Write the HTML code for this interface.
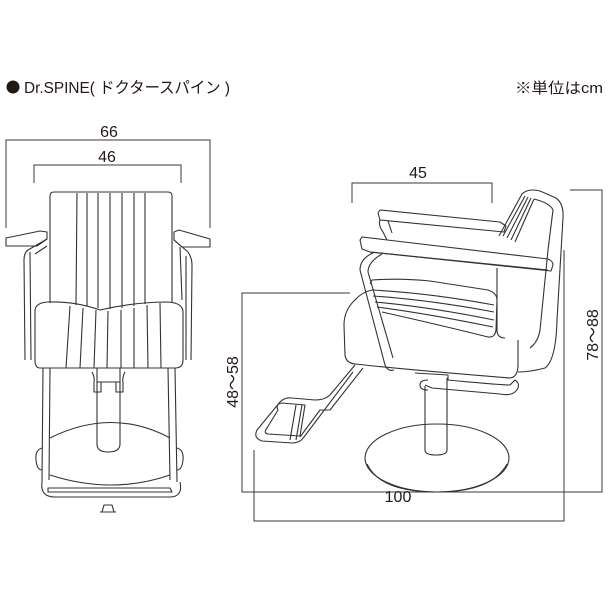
<!DOCTYPE html>
<html><head><meta charset="utf-8"><style>
html,body{margin:0;padding:0;background:#fff;}
svg{display:block;}
text{font-family:"Liberation Sans","Noto Sans CJK JP",sans-serif;fill:#231815;}
</style></head><body>
<svg width="608" height="608" viewBox="0 0 608 608" xmlns="http://www.w3.org/2000/svg">
<circle cx="13" cy="87" r="6.5" fill="#231815"/>
<text x="24" y="93" font-size="16" textLength="206" lengthAdjust="spacingAndGlyphs">Dr.SPINE( ドクタースパイン )</text>
<text x="603" y="93" font-size="15" text-anchor="end" textLength="88" lengthAdjust="spacingAndGlyphs">※単位はcm</text>

<g fill="none" stroke="#3a3a3a" stroke-width="1">
<polyline points="6,228 6,140 210,140 210,228"/>
<polyline points="34,183 34,165 181,165 181,183"/>
<polyline points="352,203 352,183 492,183 492,203"/>
<polyline points="570,190 602,190 602,492 242,492 242,293 350,293"/>
<polyline points="254,450 254,521 564,521 564,250"/>
</g>
<g font-size="16">
<text x="109" y="137" text-anchor="middle">66</text>
<text x="107" y="162" text-anchor="middle">46</text>
<text x="418" y="178" text-anchor="middle">45</text>
<text x="398" y="502" text-anchor="middle">100</text>
<text transform="translate(598,335) rotate(-90)" text-anchor="middle">78～88</text>
<text transform="translate(238,382) rotate(-90)" text-anchor="middle">48～58</text>
</g>

<!-- left chair -->
<g fill="none" stroke="#333" stroke-width="1.1" stroke-linejoin="round">
<path d="M50,303 L50,196 Q50,192 54,192 L168,192 Q172,192 172,196 L172,303"/>
<path d="M77,193 L76,305 M87,193 L87,306 M98,193 L98,308 M110,193 L110,309 M122,193 L122,308 M134,193 L134,306 M145,193 L145,304"/>
<path d="M6,238 L40,231 L47,232 L47,239 L37,246 L6,246 Z"/>
<path d="M174,232 L179,230 L210,239 L210,247 L182,247 L174,240 Z"/>
<path d="M47,239 L28,250 Q24,253 24,260 L25,360 M30,252 L31,360 M47,246 L35,254"/>
<path d="M174,240 L188,252 Q192,258 192,265 L191,360 M186,256 L186,360 M180,247 L182,300"/>
<path d="M35,310 Q36,303 47,302 Q75,301 100,310 Q135,302 168,302 Q183,303 183,312 L183,360 Q183,368 175,368 L40,368 Q35,368 35,360 Z"/>
<path d="M70,306 L66,368 M83,308 L80,368 M96,310 L94,368 M108,311 L107,368 M121,310 L121,368 M134,308 L134,368 M147,305 L148,368 M160,303 L161,368"/>
<path d="M43,368 L42,482 M50,368 L49,480 M168,368 L170,480 M175,368 L177,482"/>
<path d="M42,482 Q40,497 55,497 L170,497 Q183,497 180,482"/>
<path d="M48,488 L170,488 L172,492 L48,492 Z"/>
<path d="M50,438 Q112,407 170,438 M50,475 Q112,495 170,475"/>
<path d="M42,448 Q35,450 36,460 Q37,470 42,470 M177,448 Q184,450 183,460 Q182,470 177,470"/>
<path d="M97,368 L97,444 Q97,452 108,452 Q120,452 120,444 L120,368"/>
<path d="M97,382 L120,382 M92,372 Q95,378 94,382 L94,392 L101,392 L101,382 M125,372 Q122,378 123,382 L123,392 L116,392 L116,382"/>
<path d="M104,505 L112,505 L114,512 L102,512 Z M100,512 L116,512"/>
</g>

<!-- right chair -->
<g fill="none" stroke="#333" stroke-width="1.1" stroke-linejoin="round">
<!-- backrest -->
<path d="M499,236 L522,194 Q528,188 540,191 L556,198 Q564,204 563,218 L557,320 Q556,360 545,368 Q530,372 518,372"/>
<path d="M503,236 L525,196 M507,238 L528,197 M511,240 L531,198 M515,242 L534,199"/>
<path d="M534,199 Q550,203 553,210 L548,250 L540,330 Q538,342 530,348"/>
<path d="M497,268 L497,330 Q497,338 505,338"/>
<!-- back armrest -->
<path d="M378,213 L380,210 L500,222 L506,226 L504,232 L380,220 Z"/>
<path d="M380,220 Q378,225 383,232 L387,240 M388,221 L392,233"/>
<!-- seat -->
<path d="M370,284 L372,280 Q400,278 430,281 L488,290 Q497,293 497,300 L496,330 Q495,338 488,337 Q440,325 382,312"/>
<path d="M372,290 Q430,293 494,305 M373,296 Q430,300 494,312 M375,302 Q430,307 494,320 M377,307 Q430,314 493,327"/>
<path d="M372,290 Q362,292 355,300 Q344,310 344,325 L345,355 Q346,363 355,364 Q410,370 510,378 Q518,377 518,365 L518,340"/>
<!-- front armrest -->
<path d="M360,240 L362,237 L548,259 Q553,261 553,265 L551,271 L370,252 L362,249 Z"/>
<path d="M370,252 L548,270"/>
<!-- arm support front -->
<path d="M375,252 Q360,258 360,270 L385,365 Q388,372 394,370 M382,254 Q368,262 368,272 L393,358"/>
<!-- under-seat bracket -->
<path d="M415,373 L448,375 L448,380 Q500,385 510,385 L515,380 Q522,385 515,392 Q510,396 500,394 L432,388 L425,385 M428,390 Q420,390 420,385 Q420,380 428,380"/>
<!-- column & base -->
<path d="M425,386 L425,450 Q425,455 436,455 Q447,455 447,450 L447,378"/>
<ellipse cx="437" cy="458" rx="72" ry="34"/>
<path d="M367,464 Q380,492 437,492 Q492,492 507,464"/>
<!-- footrest -->
<path d="M355,365 L330,395 Q325,400 315,400 L292,398 Q285,397 280,402 L257,430 Q253,438 262,441 L292,443 Q300,443 304,437 L353,372 M363,368 L330,410 L320,410 L300,437"/>
<path d="M278,410 Q275,404 282,403 L305,405 L300,436 L268,434 Q263,433 267,428 Z"/>
<path d="M296,405 L290,440 M302,405 L296,440"/>
</g>
</svg>
</body></html>
